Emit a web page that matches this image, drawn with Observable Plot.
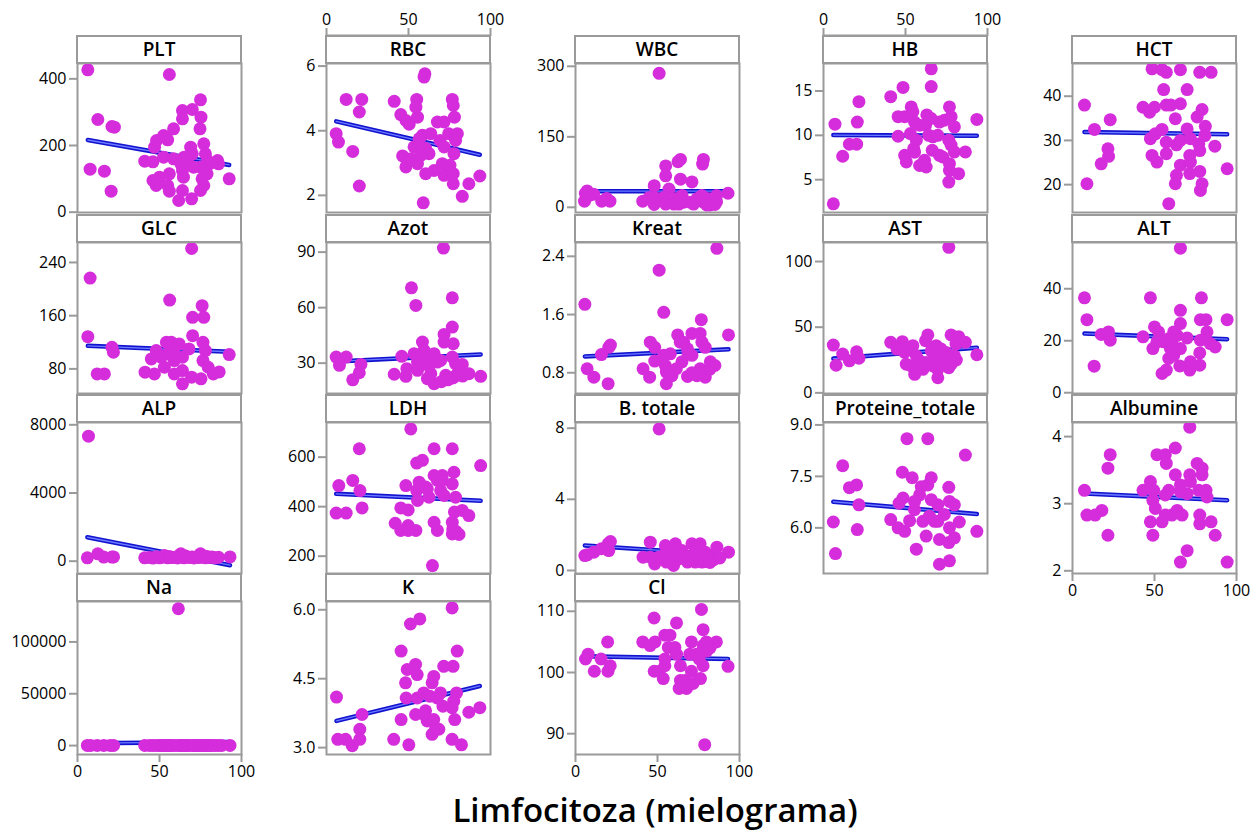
<!DOCTYPE html>
<html><head><meta charset="utf-8">
<script src="https://cdn.jsdelivr.net/npm/d3@7"></script>
<script src="https://cdn.jsdelivr.net/npm/@observablehq/plot@0.6"></script>
<style>
body{margin:0;background:#fff;}
#chart{position:relative;width:1259px;height:833px;font-family:"Open Sans",sans-serif;overflow:hidden;}
.strip{position:absolute;box-sizing:border-box;border:2px solid #9a9a9a;background:#fff;font-weight:600;font-size:19px;text-align:center;line-height:24px;color:#000;white-space:nowrap;}
.panel{position:absolute;overflow:visible;}
.panel g[aria-label$="tick"] path{stroke:#9a9a9a;stroke-width:2px;}
#title{position:absolute;left:655px;transform:translateX(-50%);top:790px;font-size:33px;font-weight:600;line-height:40px;white-space:nowrap;color:#000;}
</style></head>
<body><div id="chart"><div id="title">Limfocitoza (mielograma)</div></div>
<script>
// ---- data: [lymphocytosis %, value] ----
const PLT = [[6.3,427],[12.4,278],[21,257],[22.5,255],[7.7,129],[16.4,123],[20.5,63],[56,413],[41,153],[46,151],[47,195],[48.2,215],[52.5,230],[55,217],[58.6,250],[64,305],[64,280],[70,308],[75,337],[75.3,285],[74.7,250],[77,205],[78,175],[69,195],[70,175],[65,165],[52.5,165],[58.6,160],[63,145],[79.3,155],[80.3,145],[85.4,155],[86,145],[75,135],[79,115],[76,100],[77,80],[75,65],[64,125],[64.6,105],[56,115],[50,105],[46,95],[48,80],[55,80],[56,63],[61.7,35],[64,65],[69.6,40],[92.5,100],[67,155],[70.8,135]];
const RBC = [[5.9,3.91],[7.3,3.65],[12,4.97],[16,3.36],[20,2.29],[21.5,4.97],[20,4.58],[41.3,4.91],[45.3,4.5],[48.4,4.32],[50.4,4.2],[55,4.97],[54.5,4.73],[55.5,4.42],[60,5.76],[59.5,5.66],[46.4,3.22],[48.4,2.88],[51.4,3.13],[55.5,2.98],[53.4,3.5],[56.5,3.75],[58.5,3.86],[63.6,3.91],[60.5,3.45],[57.5,3.24],[62.5,3.29],[67.6,4.27],[71.7,4.27],[69.2,3.7],[71.7,3.5],[70.6,2.98],[73.7,2.88],[71.7,2.62],[65.6,2.77],[60.5,2.67],[59,1.77],[76.7,4.97],[77.3,4.78],[78,4.42],[74.5,3.91],[79.8,3.91],[78.7,3.7],[77.7,3.29],[75.3,2.93],[77.3,2.67],[77.3,2.36],[82.8,1.97],[86.8,2.36],[93.5,2.6]];
const WBC = [[7.1,35],[5.5,13],[11,28],[16,13],[19,19],[21,13],[51,285],[41,13],[48,6],[48,46],[55,88],[55,67],[57,39],[62.5,97],[64,102],[64,60],[71,54],[77.5,92],[78,102],[45,21],[52,18],[54,21],[59,11],[61,18],[65,25],[66,11],[70,11],[74,18],[77,25],[78,11],[82,7],[86,25],[93,30],[55,7],[60,7],[63,7],[72,7],[81,18],[48,21],[82,5],[83,8],[85,6],[86,12],[80,5],[6,30],[8,25]];
const HB = [[6,2.28],[7,11.26],[11.7,7.64],[15.8,9],[20.2,9],[20.6,11.5],[21.6,13.8],[41,14.36],[48.5,15.4],[45.5,12.1],[45.5,9.9],[49.5,12.1],[53.5,13.2],[54.5,12.66],[55.5,11.5],[53,10.2],[56.6,9.45],[55,8.5],[49.5,7.75],[50.5,7],[55.5,8.1],[58.6,6.6],[62.6,6.43],[61.6,7.19],[65.7,17.5],[65.7,15.5],[63,12.3],[62.2,11.15],[64.2,10],[66.7,9.83],[69.7,10],[66.3,8.32],[70.7,7.75],[72.7,7.56],[70.7,11.5],[73.7,11.7],[76.8,13.2],[77.8,12.1],[79.8,10.96],[76.4,9.45],[77.8,8.9],[79.8,8.13],[76.8,6.81],[76.8,6.06],[76.4,4.73],[82.4,5.68],[86.5,8.13],[93.5,11.8],[65.7,11.9],[58.6,11.15]];
const HCT = [[7.3,38],[8.8,20.2],[13.4,32.5],[17.5,24.7],[21.6,28.1],[22,26.4],[23,34.7],[43,37.5],[47,36.4],[50,37.5],[48.5,46.2],[54.6,46],[57.2,45.4],[55.6,41.5],[57.2,38],[60,38],[65.8,38.3],[65.8,46],[62.7,34.9],[69.9,41.5],[77.6,45.4],[84.5,45.4],[47.5,30.4],[50.5,31.5],[54.6,32.5],[57.2,29.6],[57.2,27],[48.5,26.6],[51.5,25.1],[63.4,29],[65.8,30],[69.9,32.6],[71.9,30.4],[65.8,24.4],[63.4,22.1],[62.7,20.2],[58.7,15.7],[71.5,26.6],[71.9,25.1],[71.5,22.5],[77.6,23],[77.6,27.7],[77,29.2],[76,35.3],[79,37],[81,33.2],[80.7,31.1],[78,18.7],[79,20.2],[86.8,28.7],[94.3,23.6]];
const GLC = [[6.3,128.5],[7.7,216.5],[12,72.5],[16.4,72.5],[21,112.5],[21.9,105],[41.2,75],[46.9,72.5],[45,95],[48,107.5],[53,82.5],[54.2,120],[56.2,183.5],[57.2,120],[59,102.5],[59,92.5],[62,117.5],[64,97.5],[64,77.5],[64,57.5],[68,110],[69.6,261],[70.2,157.5],[70.2,130],[69.6,67.5],[75.3,65],[76,175],[77,157.5],[76.5,120],[78,107.5],[76.5,92.5],[79.7,82.5],[82.8,72.5],[86.4,75.5],[92.5,101.5],[59,72.5],[55,102.5],[50.9,97.5]];
const Azot = [[5.9,33.3],[7.9,28.8],[12,33.3],[16,21],[20,24.8],[21,29.3],[41.3,24],[45.9,33.7],[48.4,22.9],[49,27],[51.8,70.7],[54.5,61.2],[53.4,35.1],[55.5,30.6],[56.5,28.8],[58.5,41.4],[59.5,36.9],[60.5,32.4],[61.5,21.6],[65.6,18.9],[63.6,24.3],[65.6,35.1],[67.6,30.6],[69.6,31.5],[71.3,92.2],[71.7,45.5],[71.7,41.4],[72.7,23.4],[76.7,65.3],[76.7,49.5],[77.3,40.5],[76.7,33.3],[78.7,29.7],[77.7,22.5],[82.8,29.3],[86.8,24.3],[94,22.9],[62.5,28.5],[55.5,26.1],[77,22],[80,24.5],[83,23],[70,20],[74,21]];
const Kreat = [[5.7,1.74],[7.1,0.855],[11.2,0.74],[15.8,1.05],[19.9,0.65],[20.3,1.15],[21.3,1.18],[41.2,0.855],[45.2,0.74],[45.6,1.22],[48.3,1.15],[48.3,0.96],[51,2.21],[53.8,1.63],[53.8,1.04],[54.8,0.9],[55.4,0.81],[55.4,0.65],[57.8,1.06],[58.8,0.76],[61.5,0.855],[62.3,1.32],[63.9,1.22],[64.9,0.95],[68.3,0.75],[68.3,1.13],[71,1.34],[71,1.04],[76.7,1.53],[76,1.34],[77.1,1.22],[79.1,1.15],[76,0.855],[79.1,0.74],[82.2,0.95],[86.2,2.51],[93.3,1.32],[68.6,1.06],[65.9,1.22],[76,0.78],[79,0.8],[82,0.85],[71,0.8],[85,0.9],[74,0.76]];
const AST = [[6,36.4],[7.7,21],[11.7,29.5],[15.8,24.4],[20.2,31.3],[21.6,26.4],[41,38.5],[48.1,39],[44.8,33.3],[49.5,30.8],[54.5,35.9],[50.5,21.8],[55.6,14.1],[53.5,20.5],[58.6,24.4],[60.6,17.9],[62.6,23.1],[63.6,44.1],[62.2,39.7],[65.7,32],[67.7,26.9],[68.7,35.9],[69.7,17.9],[69.7,11.5],[72.7,25.6],[76.4,110.8],[77.8,44.1],[80.8,37.2],[82.4,42.8],[86.5,38.5],[79.8,28.2],[76.4,19.2],[93.5,29],[74.7,30.8],[66.7,20.5],[56.6,28.2],[71.7,33.3],[78,22],[81,25]];
const ALT = [[7.3,36.5],[8.8,28.1],[13.2,10.2],[17.5,22.4],[22,23.4],[23,20.2],[43,21.5],[47.5,36.5],[50,25.3],[49,17],[52.5,23.4],[54.6,7.4],[57.2,8.7],[55.6,19.6],[58.7,20.8],[59.7,17],[58.7,13.2],[61.7,14.4],[63.8,22.1],[65.8,31.7],[65.8,26.6],[65.8,55.6],[65.8,17],[65.4,10.3],[69.9,21.1],[71.5,8.7],[71.9,11.9],[77.6,10.6],[77.6,15.3],[78.6,36.5],[78,28.1],[81.4,28.1],[82,23.4],[78,20.2],[84,18.9],[87,17.6],[94.3,28.1],[61.7,23.4],[51.5,19.6],[60.6,19.6]];
const ALP = [[6.7,7335],[6,200],[12.4,430],[16,240],[21,240],[22,250],[41,200],[44,220],[46,180],[48,260],[50,200],[52,230],[53,330],[55,200],[56,280],[58,210],[60,250],[61,190],[63,430],[64,240],[65,200],[66,300],[68,220],[70,250],[71,190],[73,260],[75,430],[76,240],[78,200],[79,280],[80,210],[82,250],[84,200],[86,230],[93,250],[57,220],[62,260],[69,230],[74,210],[77,250]];
const LDH = [[7.5,485],[5.9,374],[12,374],[16,506],[20,634],[20.4,465],[21.7,395],[41.9,333],[45.3,395],[45.3,304],[48.4,485],[49.8,304],[49.8,324],[49.8,387],[51.4,714],[54.5,304],[55,576],[58.5,587],[55,465],[56.5,499],[55.5,425],[61.5,472],[62.5,438],[64.6,162],[65.6,634],[65.6,526],[67.6,506],[65.6,337],[67.6,304],[69.6,465],[70.6,526],[71.7,445],[76.7,634],[77.7,539],[76.7,492],[78.7,438],[78,378],[76.7,337],[76.7,290],[80.8,288],[82.8,385],[86.8,364],[94,566],[70.6,506],[60.5,479],[79,300],[77,310]];
const Btot = [[5.7,0.84],[7.1,0.88],[11.2,1.03],[15.8,1.22],[19.9,1.5],[21.3,1.63],[20.3,1.12],[41.2,0.75],[45.6,1.59],[48.3,0.37],[51,7.96],[50.7,0.75],[54.8,1.4],[55.4,0.47],[58.8,0.93],[60.9,1.5],[59.8,0.28],[62.9,0.65],[64.9,1.12],[68.3,0.47],[71,1.5],[71,0.84],[74,1.22],[76,1.5],[77.1,0.47],[79.1,1.03],[81.1,0.84],[86.2,1.31],[93.3,1.03],[45.6,0.75],[53.8,0.84],[57.8,0.65],[61.9,1.22],[65.9,0.84],[73,0.47],[80,0.5],[84,0.6],[76,0.55],[88,0.7],[82,0.45]];
const Prot = [[6,6.17],[7.3,5.25],[11.7,7.81],[15.8,7.17],[20.2,7.25],[20.6,5.95],[21.6,6.67],[41,6.24],[45.5,6],[46.1,6.72],[48.5,6.87],[48.1,7.62],[49.5,5.9],[50.9,8.6],[52.5,6.21],[54.1,7.46],[55.5,6.53],[56.6,5.38],[58.6,6.96],[59.6,7.2],[62.6,5.76],[63.6,8.6],[63.6,7.25],[65.7,7.46],[65.7,6.82],[64.6,6.34],[60.6,6.19],[69.7,6.19],[69.7,6.67],[70.7,4.94],[70.7,5.66],[76.8,5.04],[76.4,5.57],[79.8,5.71],[76.4,7.18],[76.8,6.77],[76.8,6],[79.8,6.67],[82.8,6.17],[86.5,8.12],[93.5,5.9],[73.7,6.39],[55.5,6.77],[67.7,6.19]];
const Alb = [[7.3,3.2],[8.8,2.83],[13.8,2.83],[17.9,2.9],[21.6,2.53],[21.6,3.53],[23,3.73],[43,3.2],[47.5,3.33],[49.5,3.2],[49,3.05],[50.5,2.93],[47.5,2.73],[49,2.53],[51.5,3.73],[56.6,3.73],[57.2,3.6],[62.7,3.83],[62.7,3.43],[58.7,3.2],[56.6,3.13],[54.6,2.73],[56.6,2.83],[60.6,2.83],[63.8,2.9],[66.8,2.83],[65.8,2.13],[69.9,2.3],[71.5,4.14],[71.5,3.43],[71.9,3.33],[65.8,3.18],[69.9,3.15],[77.6,2.83],[77.6,2.7],[76,3.6],[79,3.53],[79,3.43],[77,3.2],[81.4,3.2],[82,3.1],[84.5,2.73],[87,2.53],[94.3,2.13],[65.8,3.28]];
const Na = [[6,140],[8,138],[12,141],[16,139],[20,137],[22,140],[41,138],[44,142],[46,136],[48,140],[50,139],[51,141],[52,137],[53,140],[54,138],[55,143],[56,139],[57,136],[58,140],[60,138],[61.5,132000],[62,139],[63,141],[64,137],[65,140],[66,142],[67,138],[68,139],[70,136],[71,141],[72,140],[73,138],[74,137],[75,140],[76,139],[77,141],[78,138],[79,140],[80,137],[81,139],[82,141],[84,138],[86,140],[88,139],[93,140]];
const K = [[6.1,4.1],[6.9,3.18],[11.6,3.18],[15.7,3.04],[20.3,3.4],[20.3,3.18],[21.7,3.72],[41,3.18],[45.5,5.1],[45.5,3.61],[48.2,4.41],[48.6,4.08],[50.2,3.06],[49.2,4.7],[51.2,5.69],[54.3,4.81],[55.3,4.59],[56.9,5.8],[54.3,3.72],[55.3,4.08],[59.3,4.19],[60.4,3.8],[61.4,3.58],[63,4.12],[64.4,4.41],[65.4,4.55],[65.4,3.61],[66.5,3.4],[64.4,3.29],[68.5,3.4],[69.5,4.19],[71.5,4.77],[76.6,6.04],[77.2,4.77],[79.7,5.1],[79.3,4.19],[77.6,4.01],[76.6,3.87],[78.2,3.61],[76.6,3.18],[82.3,3.06],[86.8,3.77],[93.5,3.87],[71,3.9],[59.3,3.72],[67.5,4.08]];
const Cl = [[6.1,102.2],[7.7,103],[11.5,100.2],[15.6,102.2],[19.6,105],[19.8,100.2],[21.2,101.1],[41,105],[45.5,104.4],[47.9,108.9],[48.5,105],[48,100.2],[51.1,100.2],[53.5,99],[54.5,101.1],[54.5,102.2],[54.5,106.1],[57.6,106.1],[56.6,104.1],[60.6,104.1],[61.6,108.1],[61.6,103],[64,101.1],[64,98.7],[63.2,97.4],[67.7,97.4],[66.7,98.7],[69.7,103],[70.7,100.2],[71.7,98.2],[70.7,105],[75.4,102.2],[76.8,110.3],[77.8,107],[77.8,104.4],[77.8,101.1],[76.2,99],[79.8,105],[85.9,105],[93,101],[78.8,88.2],[73.7,103],[82,104],[80,103.5]];

const names   = ["PLT","RBC","WBC","HB","HCT","GLC","Azot","Kreat","AST","ALT","ALP","LDH","B. totale","Proteine_totale","Albumine","Na","K","Cl"];
const series  = [PLT,RBC,WBC,HB,HCT,GLC,Azot,Kreat,AST,ALT,ALP,LDH,Btot,Prot,Alb,Na,K,Cl];
const yDomains = [[-1,446],[1.47,6.08],[-11,306],[1.3,18.1],[13.7,47.4],[43,270],[13.6,95.2],[0.515,2.59],[-0.5,114.5],[-0.3,57.8],[-722,8135],[130,740],[-0.17,8.32],[4.67,9.07],[1.96,4.21],[-8600,139000],[2.85,6.18],[86.6,111.6]];
const yTicks  = [[0,200,400],[2,4,6],[0,150,300],[5,10,15],[20,30,40],[80,160,240],[30,60,90],[0.8,1.6,2.4],[0,50,100],[0,20,40],[0,4000,8000],[200,400,600],[0,4,8],[6.0,7.5,9.0],[2,3,4],[0,50000,100000],[3.0,4.5,6.0],[90,100,110]];
const decimals = ["Kreat","Proteine_totale","K"];
const xTicks = [0,50,100];
const xLabel = "Limfocitoza (mielograma)";

// ---- layout ----
const chart = document.getElementById("chart");
const colX = [77, 326, 575, 823, 1072];
const rowTop = [63, 242, 422, 601];
const rowH = [149, 151, 151, 153];
const W = 164, ML = 80, MR = 12, MT = 10;
const bottomAxisIdx = [14, 15, 17];
const topAxisIdx = [1, 3];
const font = '"Open Sans", sans-serif';
const xs = d => d[0], ys = d => d[1];
const axisStyle = {fontFamily: font, fontSize: "16px", color: "#000", background: "transparent", overflow: "visible"};

names.forEach((name, i) => {
  const r = Math.floor(i / 5), c = i % 5;
  const hasBottom = bottomAxisIdx.includes(i);
  const MB = hasBottom ? 34 : 10;
  const H = rowH[r];
  const data = series[i];
  const svg = Plot.plot({
    width: ML + W + MR, height: MT + H + MB,
    marginLeft: ML, marginRight: MR, marginTop: MT, marginBottom: MB,
    style: axisStyle,
    x: {domain: [0, 100], ticks: xTicks, tickSize: 8, tickPadding: 3, axis: hasBottom ? "bottom" : null, label: null, tickFormat: d3.format("d")},
    y: {domain: yDomains[i], ticks: yTicks[i], tickSize: 8, tickPadding: 3, label: null,
        tickFormat: decimals.includes(name) ? d3.format(".1f") : d3.format("d")},
    marks: [
      Plot.frame({stroke: "#9a9a9a", strokeWidth: 2}),
      Plot.linearRegressionY(data, {x: xs, y: ys, stroke: "#1212cf", strokeWidth: 4.5, ci: 0}),
      Plot.linearRegressionY(data, {x: xs, y: ys, stroke: "#6b7cff", strokeWidth: 1.3, ci: 0}),
      Plot.dot(data, {x: xs, y: ys, r: 6.5, fill: "#d52ddb"})
    ]
  });
  svg.classList.add("panel");
  svg.style.left = (colX[c] - ML) + "px";
  svg.style.top = (rowTop[r] - MT) + "px";
  chart.appendChild(svg);

  if (topAxisIdx.includes(i)) {
    const ax = Plot.plot({
      width: ML + W + MR, height: 37,
      marginLeft: ML, marginRight: MR, marginTop: 35, marginBottom: 0,
      style: axisStyle,
      x: {domain: [0, 100], ticks: xTicks, axis: "top", tickSize: 8, tickPadding: 3, label: null, tickFormat: d3.format("d")},
      y: {domain: [0, 1], axis: null},
      marks: [Plot.ruleY([1], {stroke: "#9a9a9a", strokeWidth: 2})]
    });
    ax.classList.add("panel");
    ax.style.left = (colX[c] - ML) + "px";
    ax.style.top = "0px";
    chart.appendChild(ax);
  }
});

names.forEach((name, i) => {
  const r = Math.floor(i / 5), c = i % 5;
  const s = document.createElement("div");
  s.className = "strip";
  s.textContent = name;
  s.style.left = (colX[c] - 1) + "px";
  s.style.top = (rowTop[r] - 28) + "px";
  s.style.width = (W + 2) + "px";
  s.style.height = "29px";
  chart.appendChild(s);
});
document.getElementById("title").textContent = xLabel;
</script></body></html>
